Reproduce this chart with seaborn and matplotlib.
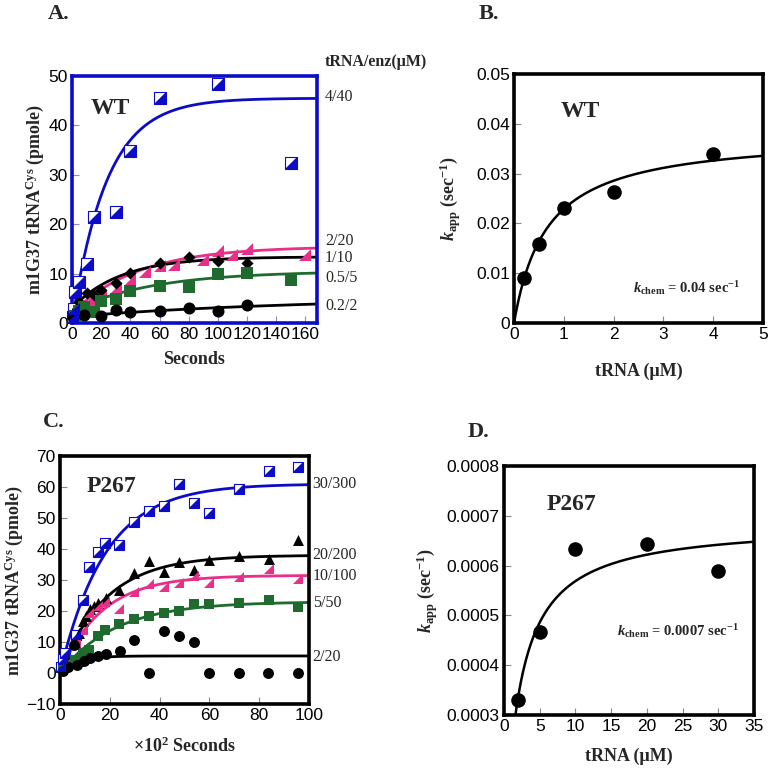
import numpy as np
import pandas as pd
import seaborn as sns
import matplotlib.pyplot as plt

# ---------------- data ----------------
# Panel A (WT), time in seconds, product in pmole
a_t_4_40 = [1, 1.5, 2, 5, 10, 15, 30, 40, 60, 100, 150]
a_y_4_40 = [1.2, 2.8, 6.3, 8.3, 12.0, 21.5, 22.4, 34.8, 45.5, 48.3, 32.4]
a_t_2_20 = [5, 10, 15, 20, 30, 40, 50, 60, 70, 90, 100, 110, 120, 160]
a_y_2_20 = [3.2, 4.2, 4.6, 5.5, 7.0, 8.8, 10.3, 11.5, 11.8, 12.7, 14.5, 13.7, 14.9, 13.8]
a_t_1_10 = [2, 5, 10, 15, 20, 30, 40, 60, 80, 100, 120]
a_y_1_10 = [2.5, 4.3, 6.0, 5.6, 6.6, 8.0, 10.2, 12.2, 13.3, 12.6, 12.2]
a_t_05_5 = [2, 5, 8, 15, 20, 30, 40, 60, 80, 100, 120, 150]
a_y_05_5 = [1.5, 2.5, 3.2, 2.2, 4.5, 4.9, 6.4, 7.4, 7.3, 9.9, 10.1, 8.8]
a_t_02_2 = [1, 8, 20, 30, 40, 60, 80, 100, 120]
a_y_02_2 = [1.2, 1.6, 1.5, 2.6, 2.3, 2.4, 3.1, 2.4, 3.6]

# single-exponential fits: (offset, amplitude, rate)
a_fit_4_40 = (0.0, 45.5, 0.042)
a_fit_2_20 = (2.0, 13.5, 0.022)
a_fit_1_10 = (3.0, 10.4, 0.030)
a_fit_05_5 = (2.5, 8.0, 0.018)
a_fit_02_2 = (1.3, 4.0, 0.006)
a_labels = ["4/40", "2/20", "1/10", "0.5/5", "0.2/2"]
a_label_y = [45.7, 16.6, 13.1, 9.2, 3.4]

# Panel B (WT), kapp vs tRNA
b_trna = [0.2, 0.5, 1, 2, 4]
b_kapp = [0.0091, 0.0158, 0.0230, 0.0263, 0.0339]
b_fit = (0.038, 0.66)   # kmax, Kd

# Panel C (P267), time in x100 seconds
c_t_30 = [0.5, 1.3, 2, 6.4, 9.1, 11.8, 15.1, 18, 23.8, 29.8, 35.8, 41.8, 47.9, 53.9, 59.9, 71.9, 84, 95.7]
c_y_30 = [2, 4.5, 6.5, 12.2, 23.7, 34.2, 39, 41.8, 41.2, 48.7, 52.2, 54, 61, 54.9, 51.7, 59.4, 65.1, 66.5]
c_t_20 = [1.3, 3.3, 6, 7.5, 9.2, 10.5, 12, 13.5, 15.2, 18.6, 23.8, 29.8, 35.8, 41.8, 47.9, 53.9, 59.9, 71.9, 84, 95.7]
c_y_20 = [2, 5, 10, 13, 16.7, 18.5, 20.5, 21.5, 22.7, 24.2, 26.9, 32.3, 36, 32.5, 35.7, 33.2, 36.3, 37.7, 36.8, 43]
c_t_10 = [1.3, 3.3, 6.4, 9.1, 11.8, 15.1, 18, 23.8, 29.8, 35.8, 41.8, 47.9, 53.9, 59.9, 71.9, 84, 95.7]
c_y_10 = [1.5, 4, 10, 13.8, 19.4, 21.5, 22.8, 20.5, 26, 28.8, 27.8, 29, 31.2, 29, 31, 33.6, 30.4]
c_t_5 = [1.3, 3.3, 6, 9.1, 11.8, 15.1, 18, 23.8, 29.8, 35.8, 41.8, 47.9, 53.9, 59.9, 71.9, 84, 95.7]
c_y_5 = [0.9, 2.4, 4.3, 6.5, 7.5, 12, 13.8, 15.8, 17.4, 18.5, 19.4, 19.9, 22.1, 22.4, 22.6, 23.7, 21.2]
c_t_2 = [1.3, 3.3, 5.6, 7, 9.6, 12, 15.4, 18.4, 24, 29.8, 35.8, 41.8, 47.9, 53.9, 59.9, 71.7, 83.7, 95.7]
c_y_2 = [0.5, 1.9, 9.1, 2.7, 3.8, 4.8, 5.4, 6.2, 7, 10.5, 0, 13.5, 12, 9.9, 0, 0, 0, 0]

c_fit_30 = (0.0, 61.0, 0.055)
c_fit_20 = (0.0, 38.0, 0.055)
c_fit_10 = (0.0, 31.5, 0.060)
c_fit_5 = (0.0, 23.0, 0.045)
c_fit_2 = (0.0, 5.5, 0.150)
c_labels = ["30/300", "20/200", "10/100", "5/50", "2/20"]
c_label_y = [61.1, 38.2, 31.4, 22.7, 5.3]

# Panel D (P267)
d_trna = [2, 5, 10, 20, 30]
d_kapp = [0.000331, 0.000467, 0.000633, 0.000643, 0.000590]
d_fit = (0.000686, 2.06)

b_yticklabels = ["0", "0.01", "0.02", "0.03", "0.04", "0.05"]
d_yticklabels = ["0.0003", "0.0004", "0.0005", "0.0006", "0.0007", "0.0008"]

# ---------------- style ----------------
sns.set_style("ticks")
plt.rcParams["font.family"] = ["Liberation Sans", "DejaVu Sans"]
plt.rcParams["mathtext.fontset"] = "custom"
plt.rcParams["mathtext.rm"] = "Liberation Serif:bold"
plt.rcParams["mathtext.bf"] = "Liberation Serif:bold"
plt.rcParams["mathtext.it"] = "Liberation Serif:bold:italic"

BLUE = "#0c0cc8"
PINK = "#e8308a"
GREEN = "#1f6b2e"
SERIF = ["Liberation Serif", "DejaVu Serif"]
TRI = [(-1, -1), (1, -1), (1, 1)]          # right triangle, filled lower-right
lab_font = dict(family=SERIF, fontweight="bold", fontsize=13)

fig = plt.figure(figsize=(7.71, 7.73), dpi=100)
W, H = 771, 773


def add_ax(x0, y0, x1, y1):
    return fig.add_axes([x0 / W, 1 - y1 / H, (x1 - x0) / W, (y1 - y0) / H])


def expfit(ax, t_max, p, color):
    t = np.linspace(0, t_max, 300)
    y = p[0] + p[1] * (1 - np.exp(-p[2] * t))
    sns.lineplot(x=t, y=y, ax=ax, color=color, lw=2.0, zorder=2)


def style_ax(ax, spine_color, tick_color):
    for s in ax.spines.values():
        s.set_visible(True)
        s.set_linewidth(2.6)
        s.set_color(spine_color)
    ax.tick_params(direction="in", length=5, width=0.8, color=tick_color,
                   labelsize=12.5, labelcolor="black", pad=3)


def half_squares(ax, t, y, size):
    sns.scatterplot(x=t, y=y, ax=ax, marker="s", s=size, facecolor="white",
                    edgecolor=BLUE, linewidth=0.8, zorder=3, clip_on=False)
    sns.scatterplot(x=t, y=y, ax=ax, marker=TRI, s=size, color=BLUE,
                    edgecolor=BLUE, linewidth=0, zorder=4, clip_on=False)


# ---------------- Panel A ----------------
axA = add_ax(72, 76, 317, 323)
expfit(axA, 168, a_fit_4_40, BLUE)
expfit(axA, 168, a_fit_2_20, PINK)
expfit(axA, 168, a_fit_1_10, "black")
expfit(axA, 168, a_fit_05_5, GREEN)
expfit(axA, 168, a_fit_02_2, "black")
half_squares(axA, a_t_4_40, a_y_4_40, 70)
sns.scatterplot(x=a_t_2_20, y=a_y_2_20, ax=axA, marker=TRI, s=70, color=PINK,
                edgecolor=PINK, linewidth=0, zorder=3)
sns.scatterplot(x=a_t_1_10, y=a_y_1_10, ax=axA, marker="D", s=38, color="black",
                edgecolor="black", linewidth=0, zorder=3)
sns.scatterplot(x=a_t_05_5, y=a_y_05_5, ax=axA, marker="s", s=70, color=GREEN,
                edgecolor=GREEN, linewidth=0, zorder=3, clip_on=False)
sns.scatterplot(x=a_t_02_2, y=a_y_02_2, ax=axA, marker="o", s=75, color="black",
                edgecolor="black", linewidth=0, zorder=3, clip_on=False)
axA.set_xlim(0, 168)
axA.set_ylim(0, 50)
axA.set_xticks(range(0, 161, 20))
axA.set_yticks(range(0, 51, 10))
style_ax(axA, BLUE, "#8a8ad8")
axA.set_xlabel("Seconds", labelpad=6, **lab_font)
axA.set_ylabel("m1G37 tRNA$^{\\mathrm{Cys}}$ (pmole)", labelpad=2, **lab_font)
axA.text(26, 43.5, "WT", family=SERIF, fontweight="bold", fontsize=17, ha="center", va="center")
for lab, yv in zip(a_labels, a_label_y):
    axA.text(173.5, yv, lab, family=SERIF, fontsize=11.5, va="center", clip_on=False)
axA.text(173.5, 52.9, "tRNA/enz(\u03bcM)", family=SERIF, fontweight="bold", fontsize=11.5,
         va="center", clip_on=False)

# ---------------- Panel B ----------------
axB = add_ax(514, 74, 763, 323)
sb = np.linspace(0.001, 5, 300)
sns.lineplot(x=sb, y=b_fit[0] * sb / (b_fit[1] + sb), ax=axB, color="black", lw=1.8)
sns.scatterplot(x=b_trna, y=b_kapp, ax=axB, marker="o", s=110, color="black",
                edgecolor="black", linewidth=0, zorder=3)
axB.set_xlim(0, 5)
axB.set_ylim(0, 0.05)
axB.set_xticks(range(0, 6))
axB.set_yticks(np.arange(6) * 0.01)
axB.set_yticklabels(b_yticklabels)
style_ax(axB, "black", "#888888")
axB.set_xlabel("tRNA (\u03bcM)", labelpad=15, **lab_font)
axB.set_ylabel("$k_{\\mathrm{app}}$ (sec$^{-1}$)", labelpad=9, **lab_font)
axB.text(1.33, 0.0424, "WT", family=SERIF, fontweight="bold", fontsize=17, ha="center", va="center")
axB.text(4.55, 0.0071, "$k_{\\mathrm{chem}}$ = 0.04 sec$^{-1}$", family=SERIF,
         fontweight="bold", fontsize=10.5, ha="right", va="center")

# ---------------- Panel C ----------------
axC = add_ax(60, 456, 309, 704)
expfit(axC, 100, c_fit_30, BLUE)
expfit(axC, 100, c_fit_20, "black")
expfit(axC, 100, c_fit_10, PINK)
expfit(axC, 100, c_fit_5, GREEN)
expfit(axC, 100, c_fit_2, "black")
half_squares(axC, c_t_30, c_y_30, 62)
sns.scatterplot(x=c_t_20, y=c_y_20, ax=axC, marker="^", s=62, color="black",
                edgecolor="black", linewidth=0, zorder=3)
sns.scatterplot(x=c_t_10, y=c_y_10, ax=axC, marker=TRI, s=62, color=PINK,
                edgecolor=PINK, linewidth=0, zorder=3)
sns.scatterplot(x=c_t_5, y=c_y_5, ax=axC, marker="s", s=62, color=GREEN,
                edgecolor=GREEN, linewidth=0, zorder=3, clip_on=False)
sns.scatterplot(x=c_t_2, y=c_y_2, ax=axC, marker="o", s=62, color="black",
                edgecolor="black", linewidth=0, zorder=3, clip_on=False)
axC.set_xlim(0, 100)
axC.set_ylim(-10, 70)
axC.set_xticks(range(0, 101, 20))
axC.set_yticks(range(-10, 71, 10))
style_ax(axC, "black", "#888888")
axC.set_xlabel("\u00d710$^{2}$ Seconds", labelpad=10, **lab_font)
axC.set_ylabel("m1G37 tRNA$^{\\mathrm{Cys}}$ (pmole)", labelpad=1, **lab_font)
axC.text(20.5, 60.2, "P267", family=SERIF, fontweight="bold", fontsize=17, ha="center", va="center")
for lab, yv in zip(c_labels, c_label_y):
    axC.text(101.5, yv, lab, family=SERIF, fontsize=11.5, va="center", clip_on=False)

# ---------------- Panel D ----------------
axD = add_ax(504, 466, 754, 715)
sd = np.linspace(1.5, 35, 300)
sns.lineplot(x=sd, y=d_fit[0] * sd / (d_fit[1] + sd), ax=axD, color="black", lw=1.8)
sns.scatterplot(x=d_trna, y=d_kapp, ax=axD, marker="o", s=110, color="black",
                edgecolor="black", linewidth=0, zorder=3, clip_on=False)
axD.set_xlim(0, 35)
axD.set_ylim(0.0003, 0.0008)
axD.set_xticks(range(0, 36, 5))
axD.set_yticks(0.0003 + np.arange(6) * 0.0001)
axD.set_yticklabels(d_yticklabels)
style_ax(axD, "black", "#888888")
axD.set_xlabel("tRNA (\u03bcM)", labelpad=10, **lab_font)
axD.set_ylabel("$k_{\\mathrm{app}}$ (sec$^{-1}$)", labelpad=5, **lab_font)
axD.text(9.5, 0.000722, "P267", family=SERIF, fontweight="bold", fontsize=17, ha="center", va="center")
axD.text(32.9, 0.000468, "$k_{\\mathrm{chem}}$ = 0.0007 sec$^{-1}$", family=SERIF,
         fontweight="bold", fontsize=10.5, ha="right", va="center")

# panel letters
for letter, px, py in [("A.", 48, 14), ("B.", 479, 14), ("C.", 43, 422), ("D.", 468, 432)]:
    fig.text(px / W, 1 - py / H, letter, family=SERIF, fontweight="bold", fontsize=16,
             ha="left", va="center")

fig.savefig("out.png", dpi=100)
